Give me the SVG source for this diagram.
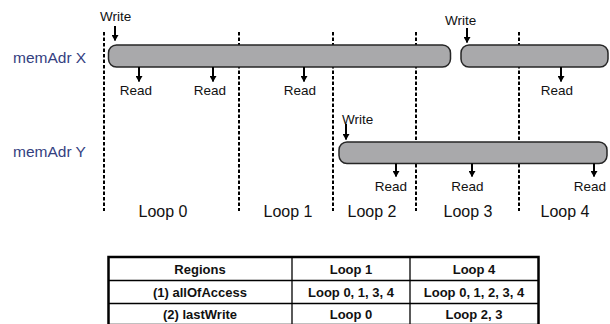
<svg xmlns="http://www.w3.org/2000/svg" width="610" height="324" viewBox="0 0 610 324">
<style>
text{font-family:"Liberation Sans",Arial,sans-serif;fill:#111}
.lbl{font-size:13.5px}
.mem{font-size:15.5px;fill:#34407f}
.loop{font-size:16px;text-anchor:middle}
.rd{text-anchor:middle}
.bar{fill:#a9a9ab;stroke:#262626;stroke-width:1.5}
.div{stroke:#000;stroke-width:2;stroke-dasharray:3.5,2}
.arr{stroke:#000;stroke-width:2;marker-end:url(#ah)}
.tb{font-size:13px;font-weight:bold;text-anchor:middle}
.cell{stroke:#000;stroke-width:1.3}
</style>
<defs>
<marker id="ah" markerUnits="userSpaceOnUse" markerWidth="8" markerHeight="8" refX="3.5" refY="6" orient="0" viewBox="0 0 8 8">
<path d="M0,0.5 L7,0.5 L3.5,6.5 z" fill="#000"/>
</marker>
</defs>
<rect width="610" height="324" fill="#fff"/>
<g id="dividers">
<line class="div" x1="104" y1="32" x2="104" y2="211"/>
<line class="div" x1="239" y1="32" x2="239" y2="211"/>
<line class="div" x1="333" y1="32" x2="333" y2="211"/>
<line class="div" x1="416" y1="32" x2="416" y2="211"/>
<line class="div" x1="519" y1="32" x2="519" y2="211"/>
</g>
<g id="memX">
<text class="mem" x="13" y="63">memAdr X</text>
<rect class="bar" x="108.5" y="45" width="342" height="22" rx="8"/>
<rect class="bar" x="461" y="45" width="147" height="22" rx="8"/>
</g>
<g id="memY">
<text class="mem" x="13" y="157">memAdr Y</text>
<rect class="bar" x="339" y="142" width="268" height="21.5" rx="8"/>
</g>
<g id="connectors">
<line class="arr" x1="115" y1="26" x2="115" y2="40.5"/>
<line class="arr" x1="467" y1="28" x2="467" y2="42.5"/>
<line class="arr" x1="346" y1="124" x2="346" y2="139.5"/>
<line class="arr" x1="139" y1="67" x2="139" y2="81.5"/>
<line class="arr" x1="213" y1="67" x2="213" y2="81.5"/>
<line class="arr" x1="304" y1="67" x2="304" y2="81.5"/>
<line class="arr" x1="561" y1="67" x2="561" y2="81.5"/>
<line class="arr" x1="396" y1="163.5" x2="396" y2="176.5"/>
<line class="arr" x1="472" y1="163.5" x2="472" y2="176.5"/>
<line class="arr" x1="594" y1="163.5" x2="594" y2="176.5"/>
</g>
<g id="labels">
<text class="lbl" x="100" y="21">Write</text>
<text class="lbl" x="445" y="25">Write</text>
<text class="lbl" x="342" y="124">Write</text>
<text class="lbl rd" x="136" y="95">Read</text>
<text class="lbl rd" x="210" y="95">Read</text>
<text class="lbl rd" x="300" y="95">Read</text>
<text class="lbl rd" x="557" y="95">Read</text>
<text class="lbl rd" x="391" y="191">Read</text>
<text class="lbl rd" x="467.5" y="191">Read</text>
<text class="lbl rd" x="590" y="191">Read</text>
<text class="loop" x="163" y="217">Loop 0</text>
<text class="loop" x="288" y="217">Loop 1</text>
<text class="loop" x="372" y="217">Loop 2</text>
<text class="loop" x="468" y="217">Loop 3</text>
<text class="loop" x="565" y="217">Loop 4</text>
</g>
<g id="table">
<rect x="108.5" y="257" width="430" height="68" fill="#fff" stroke="#000" stroke-width="2.5"/>
<line class="cell" x1="108.5" y1="280.5" x2="538.5" y2="280.5"/>
<line class="cell" x1="108.5" y1="303.5" x2="538.5" y2="303.5"/>
<line class="cell" x1="292" y1="257" x2="292" y2="325"/>
<line class="cell" x1="410" y1="257" x2="410" y2="325"/>
<text class="tb" x="200" y="274">Regions</text>
<text class="tb" x="351" y="274">Loop 1</text>
<text class="tb" x="474" y="274">Loop 4</text>
<text class="tb" x="200" y="297">(1) allOfAccess</text>
<text class="tb" x="351" y="297">Loop 0, 1, 3, 4</text>
<text class="tb" x="474" y="297">Loop 0, 1, 2, 3, 4</text>
<text class="tb" x="200" y="319">(2) lastWrite</text>
<text class="tb" x="351" y="319">Loop 0</text>
<text class="tb" x="474" y="319">Loop 2, 3</text>
</g>
</svg>
